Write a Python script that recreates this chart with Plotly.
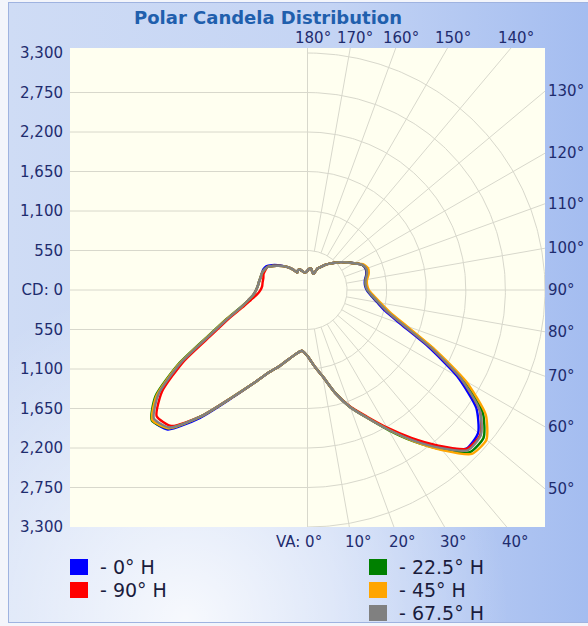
import base64
import numpy as np
import plotly.graph_objects as go

# ---------------- data ----------------
VA = list(range(0, 181, 5))  # vertical angles, degrees (0 = straight down)

SERIES = ["0° H", "90° H", "22.5° H", "45° H", "67.5° H"]
COLORS = ["#0000ff", "#ff0000", "#008000", "#ffa500", "#808080"]

# candela, right half of the plot
right_0h = [920, 1060, 1224, 1483, 1737, 1963, 2243, 2554, 2859, 3123, 3095, 2863, 2402, 1835, 1374, 1114, 982, 885, 823,
            801, 810, 846, 860, 835, 744, 669, 604, 536, 480, 427, 370, 330, 240, 260, 300, 300, 270]
right_90h = [920, 1060, 1224, 1483, 1727, 1943, 2213, 2514, 2829, 3128, 3135, 2923, 2462, 1885, 1414, 1144, 1002, 900, 833,
             811, 820, 856, 870, 835, 744, 669, 604, 536, 480, 427, 370, 330, 240, 260, 300, 300, 270]
right_22h = [920, 1060, 1224, 1483, 1737, 1963, 2253, 2574, 2894, 3193, 3195, 2973, 2502, 1915, 1434, 1154, 1002, 900, 833,
             811, 820, 856, 870, 835, 744, 669, 604, 536, 480, 427, 370, 330, 240, 260, 300, 300, 270]
right_45h = [920, 1060, 1224, 1483, 1737, 1963, 2243, 2569, 2909, 3228, 3245, 3023, 2542, 1945, 1464, 1184, 1032, 925, 853,
             831, 840, 881, 895, 850, 744, 669, 604, 536, 480, 427, 370, 330, 240, 260, 300, 300, 270]
right_67h = [920, 1060, 1224, 1483, 1737, 1963, 2243, 2554, 2869, 3153, 3145, 2923, 2462, 1885, 1414, 1144, 1002, 900, 833,
             811, 820, 856, 870, 835, 744, 669, 604, 536, 480, 427, 370, 330, 240, 260, 300, 300, 270]

# candela, left half of the plot (opposite plane)
left_0h = [920, 850, 900, 995, 1126, 1263, 1500, 1837, 2323, 2747, 2815, 2539, 2037, 1503, 1193, 966, 840, 754, 714,
           692, 683, 675, 675, 678, 661, 603, 537, 470, 410, 347, 280, 310, 300, 270, 250, 250, 270]
left_90h = [920, 850, 900, 995, 1126, 1263, 1500, 1822, 2293, 2677, 2735, 2469, 1987, 1463, 1163, 936, 800, 704, 654,
            632, 633, 635, 650, 648, 641, 583, 522, 470, 410, 347, 280, 310, 300, 270, 250, 250, 270]
left_22h = [920, 850, 900, 995, 1126, 1263, 1500, 1822, 2293, 2722, 2825, 2579, 2077, 1533, 1213, 976, 840, 754, 714,
            692, 683, 675, 675, 663, 641, 583, 522, 470, 410, 347, 280, 310, 300, 270, 250, 250, 270]
left_45h = [920, 850, 900, 995, 1126, 1263, 1500, 1822, 2293, 2722, 2815, 2559, 2062, 1518, 1203, 966, 840, 754, 714,
            692, 683, 675, 675, 663, 641, 583, 522, 470, 410, 347, 280, 310, 300, 270, 250, 250, 270]
left_67h = [920, 850, 900, 995, 1126, 1263, 1500, 1822, 2293, 2707, 2785, 2529, 2037, 1503, 1193, 966, 840, 754, 714,
            692, 683, 675, 675, 663, 641, 583, 522, 470, 410, 347, 280, 310, 300, 270, 250, 250, 270]

RIGHTS = [right_0h, right_90h, right_22h, right_45h, right_67h]
LEFTS = [left_0h, left_90h, left_22h, left_45h, left_67h]

CD_TICKS = [-3300, -2750, -2200, -1650, -1100, -550, 0, 550, 1100, 1650, 2200, 2750, 3300]
CD_LABELS = ["3,300", "2,750", "2,200", "1,650", "1,100", "550", "CD: 0", "550", "1,100", "1,650", "2,200", "2,750", "3,300"]
RINGS = [550, 1100, 1650, 2200, 2750, 3300]
SPOKES = list(range(10, 171, 10))
TOP_ANGLES = [180, 170, 160, 150, 140]
RIGHT_ANGLES = [130, 120, 110, 100, 90, 80, 70, 60, 50]
BOTTOM_ANGLES = [10, 20, 30, 40]

# ---------------- layout geometry ----------------
W, H = 588, 626
L, R, T, B = 70, 43, 48, 99
PW, PH = W - L - R, H - T - B
XMAX = 3300
YMIN, YMAX = -3300, 3370

NAVY = "#1e2c6e"
GRID = "#d8d8cc"
FONT = "DejaVu Sans"


def px2paper(px, py):
    return (px - L) / PW, (H - B - py) / PH


fig = go.Figure()

# grid: left horizontal lines
gx, gy = [], []
for t in CD_TICKS[1:-1]:
    gx += [-XMAX, 0, None]
    gy += [t, t, None]
# vertical centre line
gx += [0, 0, None]
gy += [YMIN, YMAX, None]
# rings (right half)
th = np.radians(np.linspace(0, 180, 241))
for r in RINGS:
    gx += list(r * np.sin(th)) + [None]
    gy += list(-r * np.cos(th)) + [None]
# spokes
for a in SPOKES:
    ar = np.radians(a)
    gx += [RINGS[0] * np.sin(ar), 9000 * np.sin(ar), None]
    gy += [-RINGS[0] * np.cos(ar), -9000 * np.cos(ar), None]
fig.add_trace(go.Scatter(x=gx, y=gy, mode="lines", line=dict(color=GRID, width=1),
                         hoverinfo="skip", showlegend=False))

# candela curves
va = np.radians(np.array(VA, dtype=float))
for name, col, rv, lv in zip(SERIES, COLORS, RIGHTS, LEFTS):
    rv = np.array(rv, dtype=float)
    lv = np.array(lv, dtype=float)
    xl = (-lv * np.sin(va))[::-1]
    yl = (-lv * np.cos(va))[::-1]
    xr = rv * np.sin(va)
    yr = -rv * np.cos(va)
    fig.add_trace(go.Scatter(x=np.concatenate([xl, xr[1:]]), y=np.concatenate([yl, yr[1:]]),
                             mode="lines", name=name,
                             line=dict(color=col, width=2.4, shape="spline", smoothing=0.6),
                             showlegend=False))

annotations = []
# top angle labels
for a in TOP_ANGLES:
    x = YMAX * np.tan(np.radians(180 - a))
    annotations.append(dict(x=x, y=1, xref="x", yref="paper", text=f"{a}°", showarrow=False,
                            xanchor="center", yanchor="bottom", xshift=5, yshift=-1,
                            font=dict(family=FONT, size=15, color=NAVY)))
# right angle labels
for a in RIGHT_ANGLES:
    y = -XMAX / np.tan(np.radians(a))
    annotations.append(dict(x=1, y=y, xref="paper", yref="y", text=f"{a}°", showarrow=False,
                            xanchor="left", yanchor="middle", xshift=1,
                            font=dict(family=FONT, size=15, color=NAVY)))
# bottom angle labels
annotations.append(dict(x=0, y=0, xref="x", yref="paper", text="VA: 0°", showarrow=False,
                        xanchor="right", yanchor="top", xshift=16, yshift=-4,
                        font=dict(family=FONT, size=15, color=NAVY)))
for a in BOTTOM_ANGLES:
    x = -YMIN * np.tan(np.radians(a))
    annotations.append(dict(x=x, y=0, xref="x", yref="paper", text=f"{a}°", showarrow=False,
                            xanchor="center", yanchor="top", xshift=9, yshift=-4,
                            font=dict(family=FONT, size=15, color=NAVY)))

# legend (manual, two columns)
shapes = []
LEG_POS = [(70, 567), (70, 590), (369, 567), (369, 590), (369, 613)]
for (lx, ly), name, col in zip(LEG_POS, SERIES, COLORS):
    x0, y0 = px2paper(lx, ly + 8)
    x1, y1 = px2paper(lx + 18, ly - 8)
    shapes.append(dict(type="rect", xref="paper", yref="paper", x0=x0, y0=y0, x1=x1, y1=y1,
                       fillcolor=col, line=dict(width=0)))
    tx, ty = px2paper(lx + 28, ly)
    annotations.append(dict(x=tx, y=ty, xref="paper", yref="paper", text=f"- {name}", showarrow=False,
                            xanchor="left", yanchor="middle",
                            font=dict(family=FONT, size=19, color="#1a1c3c")))

# plot area background
shapes.insert(0, dict(type="rect", xref="paper", yref="paper", x0=0, y0=0, x1=1, y1=1,
                      fillcolor="#fffff0", line=dict(width=0), layer="below"))

# panel background gradient (as an svg image)
svg = f'''<svg xmlns="http://www.w3.org/2000/svg" width="{W}" height="{H}" viewBox="0 0 {W} {H}" preserveAspectRatio="none">
<defs>
<linearGradient id="h" x1="0" y1="0" x2="1" y2="0">
<stop offset="0" stop-color="#cfdcf5"/><stop offset="0.55" stop-color="#c4d4f4"/><stop offset="1" stop-color="#a3bcf0"/>
</linearGradient>
<radialGradient id="w" cx="0.3" cy="1.0" r="0.55">
<stop offset="0" stop-color="#ffffff" stop-opacity="0.85"/><stop offset="1" stop-color="#ffffff" stop-opacity="0"/>
</radialGradient>
</defs>
<rect width="{W}" height="{H}" fill="#f3f5fb"/>
<rect x="8.5" y="2.5" width="{W}" height="{H - 6}" fill="url(#h)" stroke="#9fb3e0"/>
<rect x="9" y="3" width="{W}" height="{H - 7}" fill="url(#w)"/>
</svg>'''
src = "data:image/svg+xml;base64," + base64.b64encode(svg.encode()).decode()

fig.update_layout(
    width=W, height=H,
    margin=dict(l=L, r=R, t=T, b=B, pad=0),
    paper_bgcolor="#ffffff",
    plot_bgcolor="#fffff0",
    title=dict(text="<b>Polar Candela Distribution</b>", x=268 / W, xref="container", xanchor="center",
               y=1 - 18 / H, yref="container", yanchor="middle",
               font=dict(family=FONT, size=18, color="#1f5fad")),
    xaxis=dict(range=[-XMAX, XMAX], visible=False, fixedrange=True),
    yaxis=dict(range=[YMIN, YMAX], tickvals=CD_TICKS, ticktext=CD_LABELS, showgrid=False,
               zeroline=False, showline=False, ticks="", ticklabelstandoff=6,
               tickfont=dict(family=FONT, size=15, color=NAVY), fixedrange=True),
    annotations=annotations,
    shapes=shapes,
    images=[dict(source=src, xref="paper", yref="paper", x=-L / PW, y=1 + T / PH,
                 sizex=W / PW, sizey=H / PH, xanchor="left", yanchor="top",
                 sizing="stretch", layer="below")],
    showlegend=False,
)

fig.write_html("out.html", config={"displayModeBar": False},
               post_script="document.body.style.margin='0';document.body.style.overflow='hidden';")
